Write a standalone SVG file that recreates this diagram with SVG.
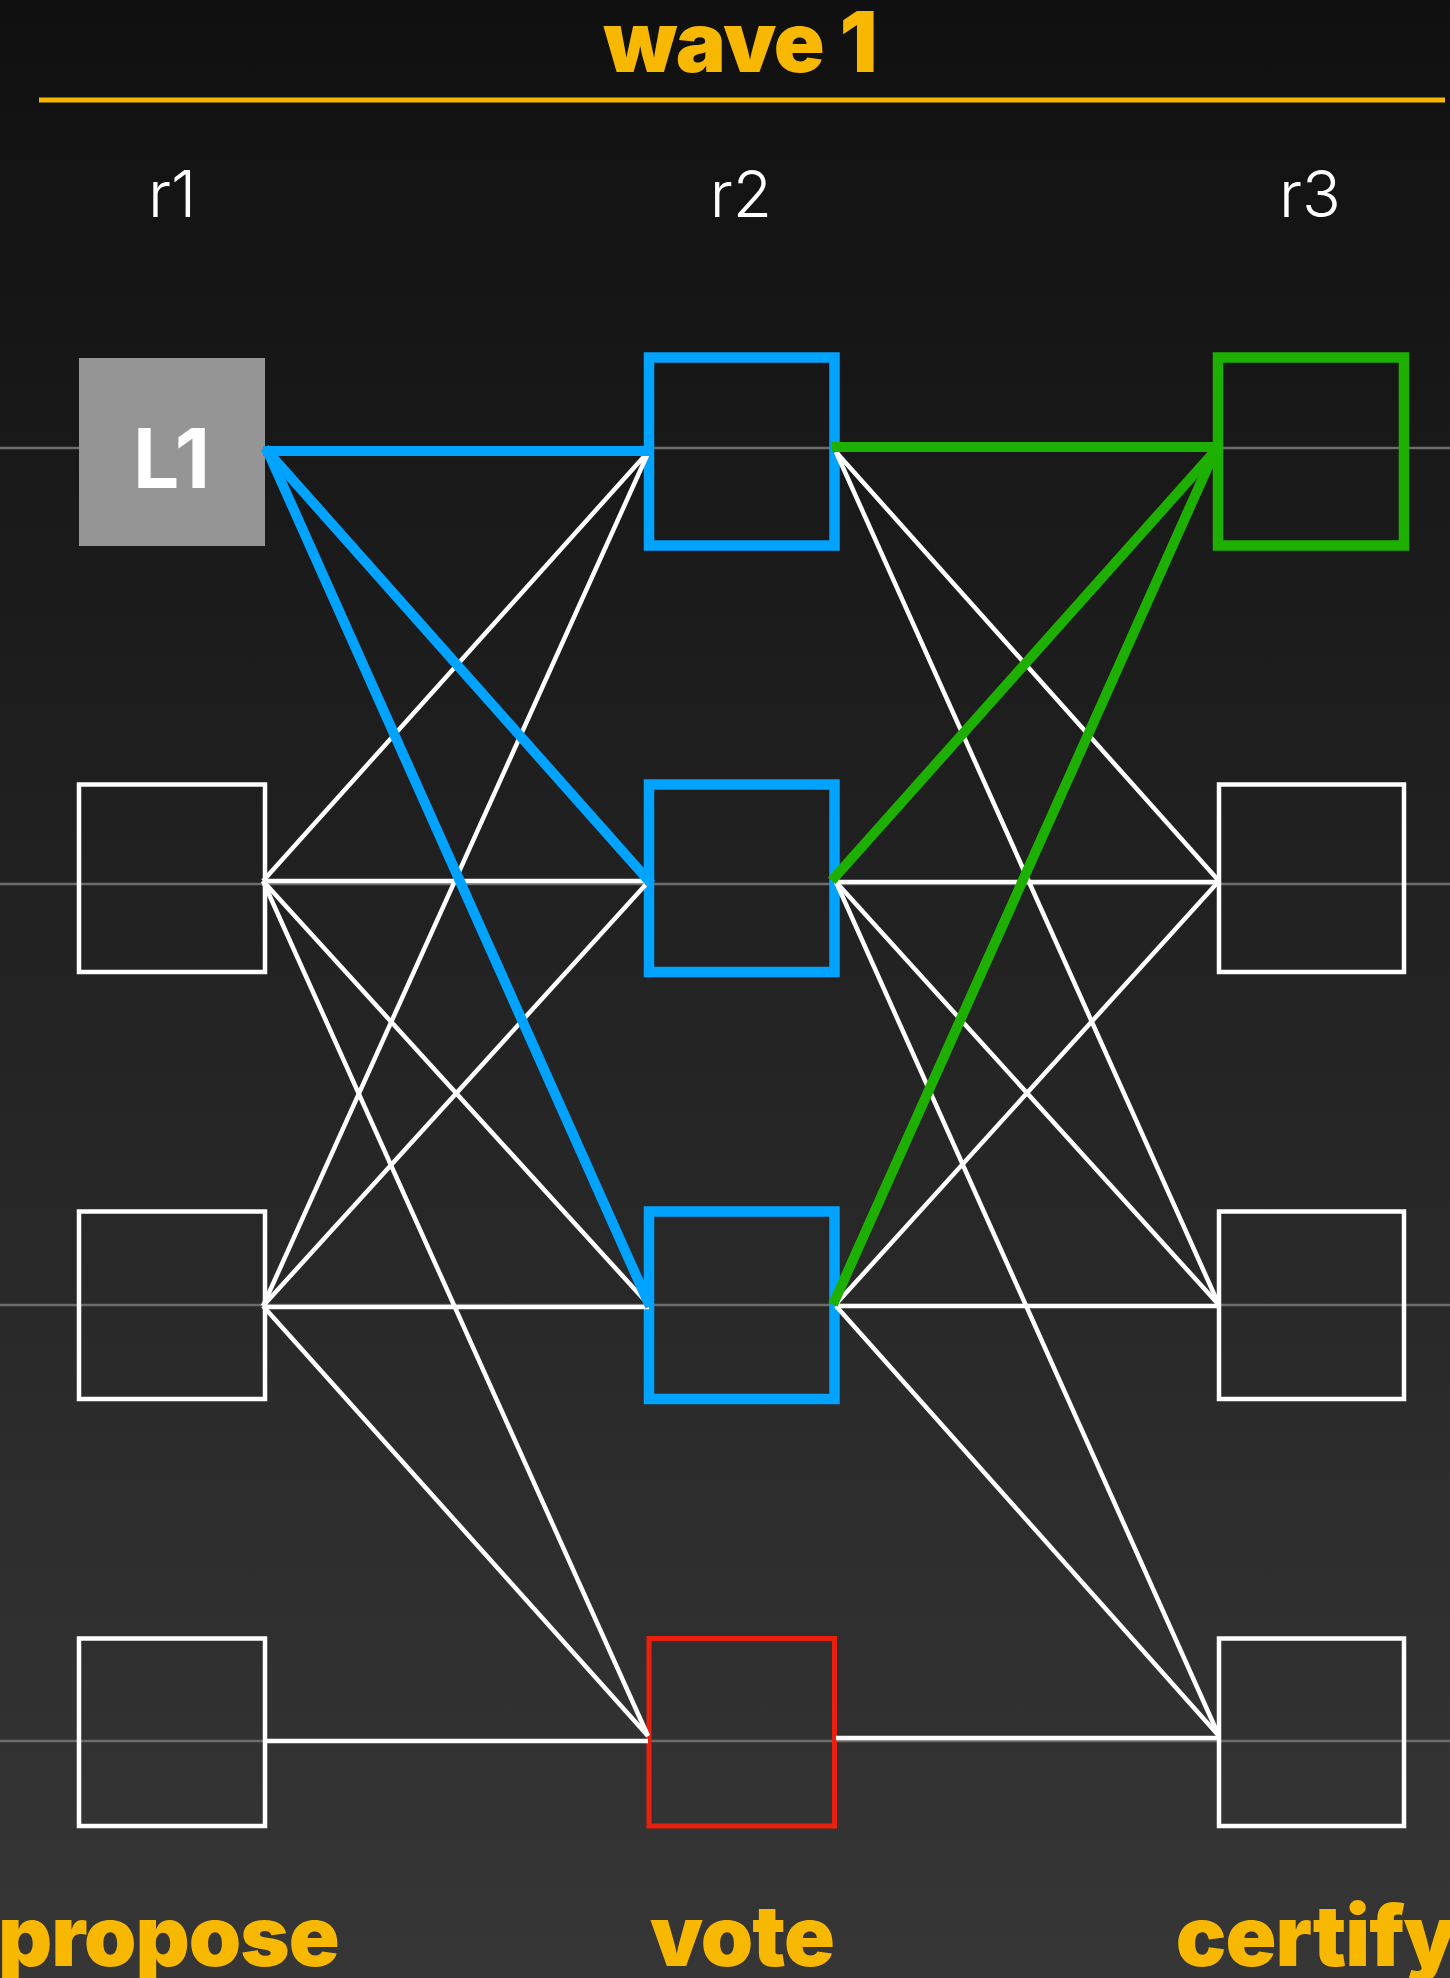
<svg xmlns="http://www.w3.org/2000/svg" width="1450" height="1978" viewBox="0 0 1450 1978">
<defs>
<linearGradient id="bg" x1="0" y1="0" x2="0" y2="1">
<stop offset="0" stop-color="#101010"/>
<stop offset="1" stop-color="#363636"/>
</linearGradient>
<style>
.lbl{font-family:Inter,"Liberation Sans",sans-serif;font-weight:900;font-size:84px;fill:#F8B800;letter-spacing:-1px}
.rnd{font-family:Inter,"Liberation Sans",sans-serif;font-weight:300;font-size:64px;fill:#ffffff;text-anchor:middle}
.guide{stroke:#6c6c6c;stroke-width:2.5}
.box{fill:none;stroke:#ffffff;stroke-width:4.5}
.blue{fill:none;stroke:#00A3FF;stroke-width:10.5}
.green{fill:none;stroke:#1DB000;stroke-width:10.5}
.red{fill:none;stroke:#EA200E;stroke-width:5}
.w{stroke:#ffffff;stroke-width:4.5;fill:none}
.bl{stroke:#00A3FF;stroke-width:10;fill:none;stroke-linecap:square}
.gr{stroke:#1DB000;stroke-width:10;fill:none;stroke-linecap:square}
</style>
</defs>
<rect x="0" y="0" width="1450" height="1978" fill="url(#bg)"/>

<g id="title">
<text class="lbl" x="740" y="72" text-anchor="middle">wave 1</text>
<line x1="39" y1="100" x2="1445" y2="100" stroke="#F8B800" stroke-width="5"/>
</g>

<g id="rounds">
<text class="rnd" x="172" y="217">r1</text>
<text class="rnd" x="741" y="217">r2</text>
<text class="rnd" x="1310" y="217">r3</text>
</g>

<g id="guides">
<line class="guide" x1="0" y1="448" x2="1450" y2="448"/>
<line class="guide" x1="0" y1="884" x2="1450" y2="884"/>
<line class="guide" x1="0" y1="1305" x2="1450" y2="1305"/>
<line class="guide" x1="0" y1="1741" x2="1450" y2="1741"/>
</g>

<g id="node-r1-1">
<rect x="79" y="358" width="186" height="188" fill="#959595"/>
<text x="171" y="488" text-anchor="middle" font-family="Inter,'Liberation Sans',sans-serif" font-weight="700" font-size="82" fill="#ffffff" letter-spacing="-1">L1</text>
</g>
<g id="node-r1-2"><rect class="box" x="79" y="784.5" width="186" height="187.5"/></g>
<g id="node-r1-3"><rect class="box" x="79" y="1211.5" width="186" height="187.5"/></g>
<g id="node-r1-4"><rect class="box" x="79" y="1638.5" width="186" height="187.5"/></g>

<g id="node-r2-1"><rect class="blue" x="649" y="357.5" width="185.5" height="188"/></g>
<g id="node-r2-2"><rect class="blue" x="649" y="784.5" width="185.5" height="187.5"/></g>
<g id="node-r2-3"><rect class="blue" x="649" y="1211.5" width="185.5" height="187.5"/></g>
<g id="node-r2-4"><rect class="red" x="649" y="1638.5" width="185.5" height="187.5"/></g>

<g id="node-r3-1"><rect class="green" x="1218" y="357.5" width="186" height="188"/></g>
<g id="node-r3-2"><rect class="box" x="1219" y="784.5" width="185" height="187.5"/></g>
<g id="node-r3-3"><rect class="box" x="1219" y="1211.5" width="185" height="187.5"/></g>
<g id="node-r3-4"><rect class="box" x="1219" y="1638.5" width="185" height="187.5"/></g>

<g id="connectors">
<line class="w" x1="263" y1="881" x2="649" y2="451"/>
<line class="w" x1="263" y1="1306" x2="649" y2="451"/>
<line class="w" x1="263" y1="881" x2="649" y2="881"/>
<line class="w" x1="263" y1="1306" x2="649" y2="881"/>
<line class="w" x1="263" y1="881" x2="649" y2="1305"/>
<line class="w" x1="263" y1="1307" x2="649" y2="1307"/>
<line class="w" x1="263" y1="881" x2="648" y2="1736"/>
<line class="w" x1="263" y1="1306" x2="648" y2="1736"/>
<line class="w" x1="265" y1="1741" x2="648" y2="1741"/>
<line class="w" x1="836" y1="452" x2="1219" y2="881"/>
<line class="w" x1="836" y1="452" x2="1219" y2="1305"/>
<line class="w" x1="836" y1="882" x2="1219" y2="882"/>
<line class="w" x1="836" y1="882" x2="1219" y2="1305"/>
<line class="w" x1="836" y1="882" x2="1219" y2="1736"/>
<line class="w" x1="836" y1="1304" x2="1219" y2="881"/>
<line class="w" x1="836" y1="1306" x2="1219" y2="1306"/>
<line class="w" x1="836" y1="1306" x2="1219" y2="1736"/>
<line class="w" x1="836" y1="1738" x2="1221" y2="1738"/>
<line class="bl" x1="268" y1="451" x2="647" y2="451"/>
<line class="bl" x1="268" y1="452" x2="648" y2="880"/>
<line class="bl" x1="268" y1="452" x2="648" y2="1302"/>
<line class="gr" x1="836" y1="447" x2="1214" y2="447"/>
<line class="gr" x1="835" y1="877" x2="1215" y2="451"/>
<line class="gr" x1="835" y1="1300" x2="1215" y2="451"/>
</g>

<g id="phases">
<text class="lbl" x="-2" y="1966">propose</text>
<text class="lbl" x="742" y="1966" text-anchor="middle">vote</text>
<text class="lbl" x="1456" y="1966" text-anchor="end">certify</text>
</g>
</svg>
